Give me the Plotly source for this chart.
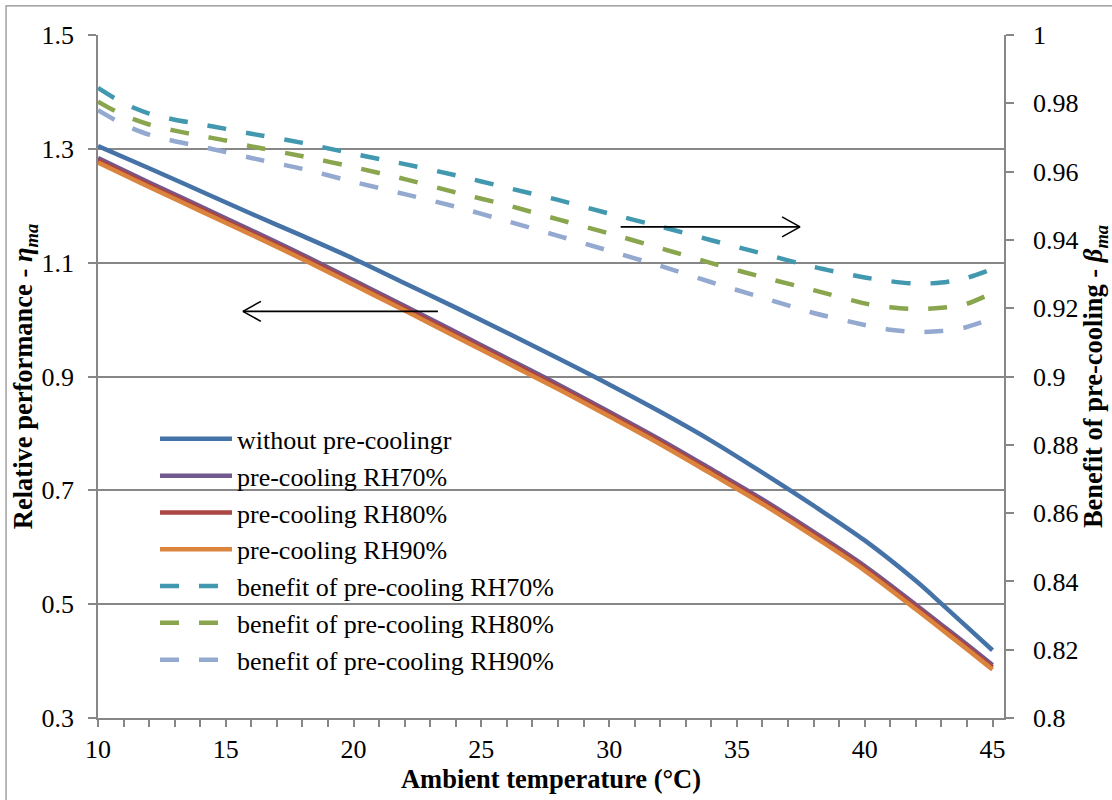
import plotly.graph_objects as go

# ---------------- data ----------------
temp_solid = [10, 12, 14, 16, 18, 20, 22, 24, 26, 28, 30, 32, 34, 36, 38, 40, 42, 43, 44, 45]
without_precooling = [1.305, 1.266, 1.226, 1.186, 1.147, 1.107, 1.064, 1.021, 0.977, 0.932,
                      0.886, 0.838, 0.787, 0.731, 0.673, 0.612, 0.541, 0.501, 0.460, 0.419]
precool_rh70 = [1.284, 1.241, 1.199, 1.157, 1.114, 1.069, 1.024, 0.978, 0.932, 0.886,
                0.838, 0.789, 0.737, 0.684, 0.627, 0.567, 0.499, 0.464, 0.429, 0.393]
precool_rh80 = [1.280, 1.237, 1.195, 1.153, 1.110, 1.065, 1.020, 0.974, 0.928, 0.882,
                0.834, 0.785, 0.733, 0.680, 0.623, 0.563, 0.495, 0.460, 0.425, 0.389]
precool_rh90 = [1.276, 1.233, 1.191, 1.149, 1.106, 1.061, 1.016, 0.970, 0.924, 0.878,
                0.830, 0.781, 0.729, 0.676, 0.619, 0.559, 0.491, 0.456, 0.421, 0.385]

temp_dash = [10, 11, 12, 13, 14, 15, 16, 18, 20, 22, 24, 26, 28, 30, 32, 34, 36, 38, 40, 41, 42, 43, 44, 45]
benefit_rh70 = [0.9845, 0.9800, 0.9770, 0.9752, 0.9739, 0.9725, 0.9711, 0.9684, 0.9652, 0.9622,
                0.9589, 0.9553, 0.9517, 0.9477, 0.9439, 0.9399, 0.9360, 0.9321, 0.9290, 0.9279,
                0.9272, 0.9275, 0.9289, 0.9315]
benefit_rh80 = [0.9805, 0.9765, 0.9738, 0.9720, 0.9705, 0.9691, 0.9674, 0.9645, 0.9613, 0.9578,
                0.9539, 0.9502, 0.9460, 0.9419, 0.9376, 0.9332, 0.9291, 0.9253, 0.9214, 0.9203,
                0.9197, 0.9201, 0.9213, 0.9245]
benefit_rh90 = [0.9780, 0.9738, 0.9708, 0.9689, 0.9674, 0.9657, 0.9640, 0.9608, 0.9570, 0.9534,
                0.9497, 0.9455, 0.9412, 0.9368, 0.9324, 0.9276, 0.9231, 0.9186, 0.9151, 0.9137,
                0.9130, 0.9133, 0.9145, 0.9170]

left_ticks = [0.3, 0.5, 0.7, 0.9, 1.1, 1.3, 1.5]
left_ticklabels = ["0.3", "0.5", "0.7", "0.9", "1.1", "1.3", "1.5"]
right_ticks = [0.8, 0.82, 0.84, 0.86, 0.88, 0.9, 0.92, 0.94, 0.96, 0.98, 1.0]
right_ticklabels = ["0.8", "0.82", "0.84", "0.86", "0.88", "0.9", "0.92", "0.94", "0.96", "0.98", "1"]
x_ticks = [10, 15, 20, 25, 30, 35, 40, 45]

# ---------------- style ----------------
FONT = "Liberation Serif, Tinos, DejaVu Serif"
GRID = "#878787"
LW = 4.5
DASH = "19px,20px"
TICK_SIZE = 26
TITLE_SIZE = 26.5

fig = go.Figure()

solid_series = [
    ("without pre-coolingr", without_precooling, "#4572A7"),
    ("pre-cooling RH70%", precool_rh70, "#71588F"),
    ("pre-cooling RH80%", precool_rh80, "#AA4643"),
    ("pre-cooling RH90%", precool_rh90, "#DB843D"),
]
for name, vals, col in solid_series:
    fig.add_trace(go.Scatter(x=temp_solid, y=vals, name=name, mode="lines",
                             line=dict(color=col, width=LW, shape="spline", smoothing=1.0),
                             yaxis="y"))

dash_series = [
    ("benefit of pre-cooling RH70%", benefit_rh70, "#4198AF"),
    ("benefit of pre-cooling RH80%", benefit_rh80, "#89A54E"),
    ("benefit of pre-cooling RH90%", benefit_rh90, "#93A9CF"),
]
for name, vals, col in dash_series:
    fig.add_trace(go.Scatter(x=temp_dash, y=vals, name=name, mode="lines",
                             line=dict(color=col, width=LW, dash=DASH, shape="spline", smoothing=0.8),
                             yaxis="y2"))

# arrows (annotation lines with open chevron heads)
shapes = []
def arrow(x0, x1, y, yref, direction):
    shapes.append(dict(type="line", xref="x", yref=yref, x0=x0, x1=x1, y0=y, y1=y,
                       line=dict(color="black", width=1.6)))
    tip = x1
    for dy in (-10, 10):
        shapes.append(dict(type="line", xref="x", yref=yref, xsizemode="pixel", ysizemode="pixel",
                           xanchor=tip, yanchor=y, x0=0, y0=0, x1=-18 * direction, y1=dy,
                           line=dict(color="black", width=1.6)))

arrow(23.30, 15.67, 1.0145, "y", -1)
arrow(30.45, 37.47, 1.1628, "y", 1)

# outer chart border
shapes.append(dict(type="rect", xref="paper", yref="paper", x0=-0.1015, x1=1.13, y0=-0.13, y1=1.0425,
                   line=dict(color="#8C8C8C", width=1.2), fillcolor="rgba(0,0,0,0)", layer="below"))

fig.update_layout(
    width=1112, height=800,
    margin=dict(l=98, r=108, t=35, b=82, autoexpand=False),
    paper_bgcolor="white", plot_bgcolor="white",
    font=dict(family=FONT, size=TICK_SIZE, color="black"),
    showlegend=True,
    legend=dict(x=0.0629, y=0.443, xanchor="left", yanchor="top",
                bgcolor="rgba(0,0,0,0)", font=dict(family=FONT, size=TICK_SIZE),
                itemwidth=72, tracegroupgap=0, traceorder="normal"),
    shapes=shapes,
    xaxis=dict(range=[10, 45.45], tickmode="array", tickvals=x_ticks,
               ticktext=[str(v) for v in x_ticks], automargin=False,
               showgrid=False, zeroline=False, showline=True, linecolor=GRID, linewidth=1.5,
               ticks="outside", ticklen=7, tickcolor=GRID, tickwidth=1.5,
               minor=dict(dtick=1, tick0=10, ticks="outside", ticklen=7, tickcolor=GRID, tickwidth=1.5, showgrid=False),
               tickfont=dict(family=FONT, size=TICK_SIZE),
               title=dict(text="<b>Ambient temperature (°C)</b>", font=dict(family=FONT, size=TITLE_SIZE), standoff=4)),
    yaxis=dict(range=[0.3, 1.5], tickmode="array", tickvals=left_ticks, ticktext=left_ticklabels,
               automargin=False,
               showgrid=True, gridcolor=GRID, gridwidth=1.5, zeroline=False,
               showline=True, linecolor=GRID, linewidth=1.5,
               ticks="outside", ticklen=8, tickcolor=GRID, tickwidth=1.5,
               tickfont=dict(family=FONT, size=TICK_SIZE), ticklabelstandoff=9,
               title=dict(text="<b>Relative performance - <i>η</i><sub><i>ma</i></sub></b>",
                          font=dict(family=FONT, size=TITLE_SIZE), standoff=0)),
    yaxis2=dict(range=[0.8, 1.0], tickmode="array", tickvals=right_ticks, ticktext=right_ticklabels,
                overlaying="y", side="right", showgrid=False, zeroline=False, automargin=False,
                showline=True, linecolor=GRID, linewidth=1.5,
                ticks="outside", ticklen=8, tickcolor=GRID, tickwidth=1.5,
                tickfont=dict(family=FONT, size=TICK_SIZE), ticklabelstandoff=14,
                title=dict(text="<b>Benefit of pre-cooling - <i>β</i><sub><i>ma</i></sub></b>",
                           font=dict(family=FONT, size=TITLE_SIZE), standoff=25)),
)

fig.write_html("out.html")
